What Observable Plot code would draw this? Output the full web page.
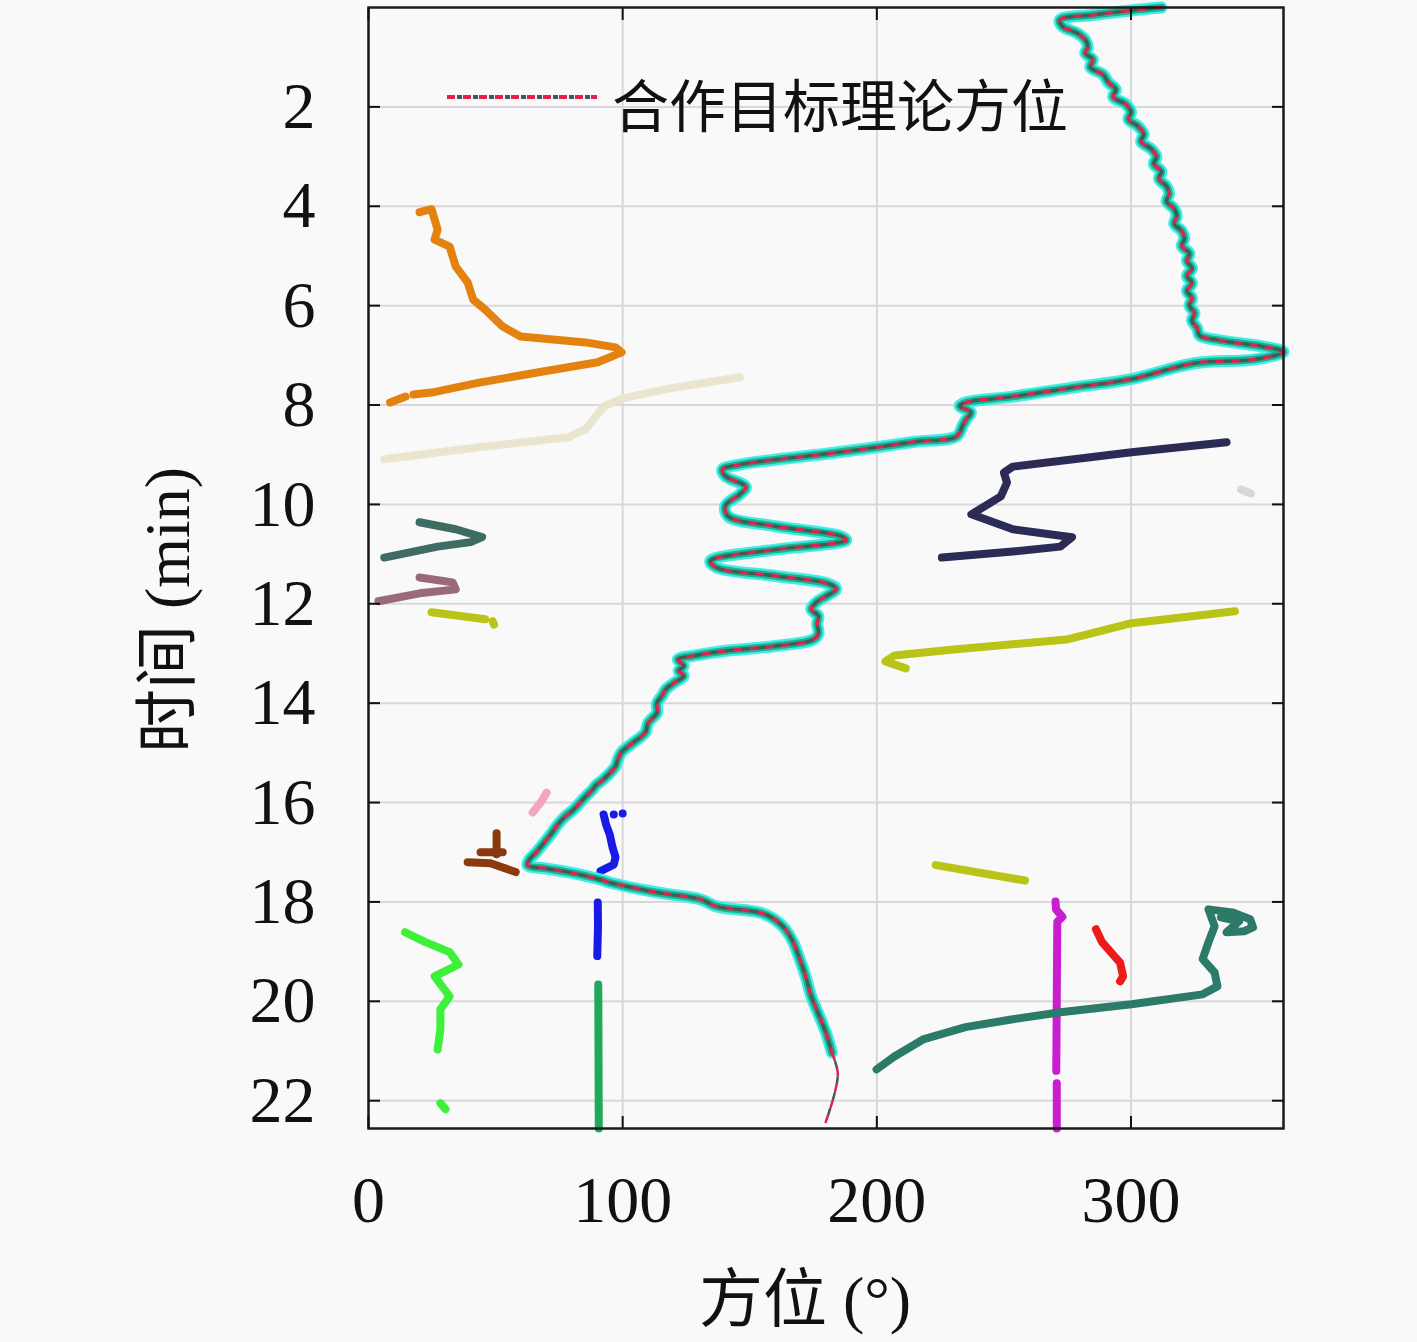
<!DOCTYPE html>
<html><head><meta charset="utf-8">
<script src="https://cdn.jsdelivr.net/npm/d3@7"></script>
<script src="https://cdn.jsdelivr.net/npm/@observablehq/plot@0.6"></script>
<style>
body{margin:0;background:#f9f9f9;}
#wrap{position:relative;width:1417px;height:1342px;overflow:hidden;}
.lbl{position:absolute;font-family:"Liberation Serif","Noto Sans CJK SC",serif;color:#111;white-space:nowrap;line-height:1;}
</style></head><body><div id="wrap"></div>
<script>
// ---- axes ----
const xTicks = [0, 100, 200, 300];
const yTicks = [2, 4, 6, 8, 10, 12, 14, 16, 18, 20, 22];
const xLabel = "方位 (°)";
const yLabel = "时间 (min)";
const legendLabel = "合作目标理论方位";

// ---- cooperative target theoretical azimuth [azimuth°, minute] ----
const theoryTrack = [
  [312,0.0],[300,0.06],[285,0.15],[272,0.25],[273,0.38],[279,0.52],[282,0.65],[283,0.8],[282,0.92],[285,1.05],
  [284,1.2],[289,1.35],[291,1.5],[294,1.65],[293,1.8],[298,1.95],[300,2.11],[299,2.25],[303,2.4],[305,2.55],
  [304,2.7],[308,2.85],[310,3.0],[309,3.15],[312,3.3],[311,3.45],[314,3.6],[315,3.75],[314,3.9],[317,4.05],
  [318,4.2],[317,4.35],[320,4.5],[321,4.65],[320,4.8],[323,4.95],[322,5.1],[324,5.25],[322,5.4],[324,5.55],
  [322,5.7],[324,5.85],[323,6.0],[325,6.15],[324,6.3],[326,6.45],[327,6.6],[335,6.7],[351.6,6.82],[360,6.93],
  [349,7.08],[325,7.16],[300,7.48],[277,7.65],[253.5,7.83],[235,7.95],[232.6,8.02],[237,8.15],[235,8.3],[233.7,8.42],
  [231.4,8.63],[215,8.74],[199.9,8.85],[178.7,8.99],[160,9.1],[146.1,9.2],[139.2,9.3],[140.4,9.43],[148.5,9.65],[146,9.8],
  [140.4,10.03],[141.5,10.24],[160.2,10.44],[185.8,10.64],[188,10.72],[183.5,10.78],[160.2,10.91],[134.5,11.14],[136.9,11.27],[160.2,11.44],
  [181,11.6],[184,11.7],[180,11.85],[176,11.98],[174.2,12.11],[177,12.25],[176.5,12.4],[177,12.6],[175,12.72],[160.2,12.85],
  [140,12.95],[127.6,13.05],[121.7,13.12],[124,13.25],[122,13.35],[124,13.45],[120,13.6],[117,13.72],[115.5,13.85],[113.5,14.0],
  [113.5,14.19],[110,14.4],[108.9,14.59],[104,14.8],[99.5,14.99],[98,15.15],[97.2,15.27],[92.5,15.53],[89.5,15.65],[88,15.75],
  [85.4,15.88],[80.7,16.14],[77,16.3],[73.9,16.48],[72,16.62],[69.2,16.8],[66,17.0],[63.4,17.14],[62.6,17.26],[70,17.33],
  [78.5,17.4],[91.3,17.55],[94.9,17.61],[113.5,17.81],[130.7,17.95],[136.9,18.09],[154.3,18.22],[160,18.36],[164,18.55],[167,18.8],
  [170,19.2],[172,19.5],[174.2,19.9],[177,20.25],[179.9,20.62],[182.3,21.03],[184.6,21.43],[183.5,21.83],[179.9,22.43]
];
const measuredEnd = 21.03; // measured track of the cooperative target ends here

// ---- other tracks [azimuth°, minute] ----
const trackOrange = [[20.1,4.12],[24.8,4.06],[27.2,4.47],[26,4.67],[31.9,4.81],[34.3,5.21],[39,5.53],[41.2,5.88],[45.9,6.08],[52.8,6.42],[59.8,6.62],[85.4,6.74],[97.2,6.84],[99.6,6.94],[90.2,7.14],[66.9,7.34],[43.5,7.55],[24.8,7.75],[17.7,7.79]];
const trackOrangeTail = [[14.6,7.83],[8.5,7.95]];
const trackBeige = [[146.1,7.44],[118.1,7.67],[99.6,7.87],[92.5,8.03],[85.4,8.49],[78.5,8.65],[43.5,8.85],[6.2,9.09]];
const trackSlate = [[20.1,10.36],[34.3,10.5],[44.7,10.66],[40.2,10.76],[27.2,10.85],[6.2,11.07]];
const trackMauve = [[20.1,11.47],[33.1,11.57],[34.3,11.71],[20.1,11.79],[3.9,11.95]];
const trackOliveShort = [[24.8,12.17],[45.9,12.31]];
const trackOliveDot = [[48.8,12.35],[49.4,12.42]];
const trackNavy = [[337.6,8.75],[300.2,8.95],[253.5,9.24],[250,9.36],[251.2,9.56],[248.8,9.84],[237.2,10.2],[253.5,10.5],[276.8,10.66],[272.2,10.85],[253.5,10.95],[225.6,11.07]];
const trackFaint = [[343.3,9.7],[347.2,9.78]];
const trackOliveLong = [[340.9,12.15],[300.2,12.39],[274.6,12.72],[230.3,12.92],[206.9,13.04],[203.4,13.16],[211.4,13.3]];
const trackOliveMid = [[223.2,17.26],[258.3,17.57]];
const trackPink = [[70.1,15.8],[67.7,16.0],[64.6,16.2]];
const trackBrownA = [[50.4,16.62],[50.4,17.04]];
const trackBrownB = [[44.1,17.0],[52.8,17.0]];
const trackBrownC = [[39,17.2],[48,17.22],[57.9,17.4]];
const trackBlueUpper = [[92.5,16.24],[93.5,16.45],[94.9,16.64],[96,16.9],[97.2,17.1],[96.5,17.25],[91.3,17.38]];
const blueDots = [[96.5,16.24],[100,16.22]];
const trackBlueLower = [[90.2,18.01],[90.3,18.5],[90.0,19.09]];
const trackGreen = [[90.4,19.66],[90.6,22.56]];
const trackLime = [[14.4,18.61],[22.4,18.81],[31.9,19.01],[35.4,19.26],[26,19.5],[31.9,19.9],[28.3,20.16],[28.3,20.56],[27.2,20.97]];
const trackLimeDot = [[28.3,22.05],[30.3,22.17]];
const trackMagenta = [[270.3,17.99],[270.5,18.15],[273,18.3],[271,18.4],[270.6,21.4]];
const trackMagentaTail = [[270.8,21.65],[270.8,22.56]];
const trackRed = [[286.2,18.55],[288.6,18.81],[295.7,19.22],[296.9,19.5],[295.7,19.6]];
const trackTeal = [[199.9,21.37],[206.9,21.11],[218.5,20.76],[234.9,20.52],[253.5,20.36],[272.2,20.22],[300.2,20.06],[328.2,19.86],[334,19.7],[332.9,19.42],[328.2,19.15],[330.5,18.81],[332.9,18.49],[330.5,18.15],[339.8,18.21],[346.9,18.35],[348,18.51],[344.5,18.59],[337.6,18.61],[342.5,18.39],[335.4,18.31]];

const tracks = [
  {pts: trackOrange, color: "#e3820f"},
  {pts: trackOrangeTail, color: "#e3820f"},
  {pts: trackBeige, color: "#e9e5cf"},
  {pts: trackSlate, color: "#3e6b62"},
  {pts: trackMauve, color: "#9a6a78"},
  {pts: trackOliveShort, color: "#b9c417"},
  {pts: trackOliveDot, color: "#b9c417"},
  {pts: trackNavy, color: "#2b2b55"},
  {pts: trackFaint, color: "#d8d8d8"},
  {pts: trackOliveLong, color: "#b9c417"},
  {pts: trackOliveMid, color: "#b9c417"},
  {pts: trackPink, color: "#f5a5bd"},
  {pts: trackBrownA, color: "#8b3a0e"},
  {pts: trackBrownB, color: "#8b3a0e"},
  {pts: trackBrownC, color: "#8b3a0e"},
  {pts: trackBlueUpper, color: "#1a1ae6"},
  {pts: trackBlueLower, color: "#1a1ae6"},
  {pts: trackGreen, color: "#22a85a"},
  {pts: trackLime, color: "#3ef03a"},
  {pts: trackLimeDot, color: "#3ef03a"},
  {pts: trackMagenta, color: "#c81ed0"},
  {pts: trackMagentaTail, color: "#c81ed0"},
  {pts: trackRed, color: "#ee1b1b"},
  {pts: trackTeal, color: "#2c7a68"}
];
const trackRows = tracks.flatMap((tr, i) => tr.pts.map(([az, t]) => ({id: i, az, t, color: tr.color})));
const theoryRows = theoryTrack.map(([az, t]) => ({az, t}));
const measuredRows = theoryRows.filter(d => d.t <= measuredEnd);
const tailRows = theoryRows.filter(d => d.t >= measuredEnd);
const blueDotRows = blueDots.map(([az, t]) => ({az, t}));

const dashRed = {x: "az", y: "t", curve: "catmull-rom", stroke: "#e0224f", strokeDasharray: "8,8"};
const dashDark = {x: "az", y: "t", curve: "catmull-rom", stroke: "#3b5e58", strokeDasharray: "5,11", strokeDashoffset: 6};

const plot = Plot.plot({
  width: 1417, height: 1342,
  marginLeft: 368, marginRight: 134, marginTop: 7, marginBottom: 214,
  style: {background: "#f9f9f9", fontFamily: "'Liberation Serif', serif", color: "#111"},
  x: {domain: [0, 360], label: null},
  y: {domain: [0, 22.56], reverse: true, label: null},
  marks: [
    Plot.gridX(xTicks, {stroke: "#d8d8d8", strokeOpacity: 1, strokeWidth: 2}),
    Plot.gridY(yTicks, {stroke: "#d8d8d8", strokeOpacity: 1, strokeWidth: 2}),
    Plot.line(trackRows, {x: "az", y: "t", z: "id", stroke: "color", strokeWidth: 8, strokeLinecap: "round", strokeLinejoin: "round"}),
    Plot.dot(blueDotRows, {x: "az", y: "t", r: 4, fill: "#1a1ae6"}),
    Plot.line(measuredRows, {x: "az", y: "t", curve: "catmull-rom", stroke: "#44ece6", strokeWidth: 12, strokeLinecap: "round", strokeLinejoin: "round"}),
    Plot.line(measuredRows, {x: "az", y: "t", curve: "catmull-rom", stroke: "#16b590", strokeWidth: 7.5, strokeLinecap: "round", strokeLinejoin: "round"}),
    Plot.line(measuredRows, {...dashRed, strokeWidth: 3.5}),
    Plot.line(measuredRows, {...dashDark, strokeWidth: 3.5}),
    Plot.line(tailRows, {...dashRed, strokeWidth: 2.5}),
    Plot.line(tailRows, {...dashDark, strokeWidth: 2.5}),
    Plot.frame({stroke: "#1a1a1a", strokeWidth: 2.5}),
    Plot.axisX(xTicks, {anchor: "bottom", tickSize: -12, tickPadding: 59, fontSize: 66, strokeWidth: 2, tickFormat: d => String(d), label: null}),
    Plot.axisX(xTicks, {anchor: "top", tickSize: -12, text: null, strokeWidth: 2, label: null}),
    Plot.axisY(yTicks, {anchor: "left", tickSize: -12, tickPadding: 65, fontSize: 66, strokeWidth: 2, tickFormat: d => String(d), label: null}),
    Plot.axisY(yTicks, {anchor: "right", tickSize: -12, text: null, strokeWidth: 2, label: null})
  ]
});

const wrap = document.getElementById("wrap");
wrap.appendChild(plot);

// axis titles
const xl = document.createElement("div");
xl.className = "lbl";
xl.textContent = xLabel;
xl.style.cssText = "left:805px;top:1300px;transform:translate(-50%,-50%);font-size:64px;";
wrap.appendChild(xl);

const yl = document.createElement("div");
yl.className = "lbl";
yl.textContent = yLabel;
yl.style.cssText = "left:168px;top:610px;transform:translate(-50%,-50%) rotate(-90deg);font-size:64px;";
wrap.appendChild(yl);

// legend
const lg = document.createElement("div");
lg.className = "lbl";
lg.style.cssText = "left:445px;top:79px;display:flex;align-items:center;font-size:57px;";
lg.innerHTML = `<svg width="154" height="12" style="margin-right:13px;margin-top:-22px">
  <line x1="2" x2="152" y1="6" y2="6" stroke="#e0224f" stroke-width="4" stroke-dasharray="8,8"/>
  <line x1="2" x2="152" y1="6" y2="6" stroke="#3b5e58" stroke-width="4" stroke-dasharray="5,11" stroke-dashoffset="6"/>
</svg><span></span>`;
lg.querySelector("span").textContent = legendLabel;
wrap.appendChild(lg);
</script></body></html>
